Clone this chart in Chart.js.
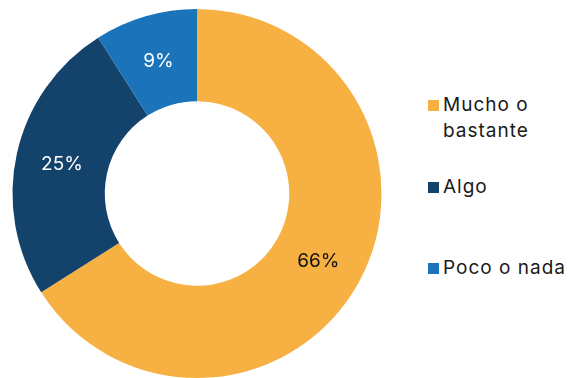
<!DOCTYPE html>
<html lang="es">
<head>
<meta charset="UTF-8">
<title>Donut</title>
<script src="https://cdn.jsdelivr.net/npm/chart.js"></script>
<style>
  html, body { margin: 0; padding: 0; background: #fff; }
  #wrap { position: relative; width: 569px; height: 378px; overflow: hidden; font-family: Inter, "Open Sans", sans-serif; }
  #box { position: absolute; left: 0; top: 0; width: 394px; height: 378px; }
  .leg { position: absolute; left: 428px; font-size: 19px; line-height: 26px; letter-spacing: 1px; color: #1a1a1a; white-space: nowrap; }
  .leg span.sq { position: absolute; left: 0; top: 8px; width: 11px; height: 11px; }
  .leg div.t { margin-left: 15px; }
</style>
</head>
<body>
<div id="wrap">
  <div id="box"><canvas id="grafico"></canvas></div>
  <div id="leyenda"></div>
</div>
<script>
  const categorias = ["Mucho o bastante", "Algo", "Poco o nada"];
  const valores = [66, 25, 9];
  const colores = ["#F6B142", "#13426B", "#1B73BA"];
  const coloresTexto = ["#111111", "#ffffff", "#ffffff"];
  const lineasLeyenda = [["Mucho o", "bastante"], ["Algo"], ["Poco o nada"]];
  const topLeyenda = [92, 174, 255];

  let leyenda = document.getElementById("leyenda");
  categorias.forEach((c, i) => {
    leyenda.innerHTML += `<div class="leg" style="top:${topLeyenda[i]}px"><span class="sq" style="background:${colores[i]}"></span><div class="t">${lineasLeyenda[i].join("<br>")}</div></div>`;
  });

  const etiquetas = {
    id: "etiquetas",
    afterDatasetsDraw(chart) {
      let ctx = chart.ctx;
      let meta = chart.getDatasetMeta(0);
      ctx.save();
      ctx.font = "19px Inter, 'Open Sans', sans-serif";
      ctx.textAlign = "center";
      ctx.textBaseline = "middle";
      meta.data.forEach((arc, i) => {
        let p = arc.tooltipPosition();
        ctx.fillStyle = coloresTexto[i];
        ctx.fillText(valores[i] + "%", p.x, p.y + 1);
      });
      ctx.restore();
    }
  };

  new Chart(document.getElementById("grafico"), {
    type: "doughnut",
    data: {
      labels: categorias,
      datasets: [{
        data: valores,
        backgroundColor: colores,
        borderWidth: 0
      }]
    },
    options: {
      responsive: true,
      maintainAspectRatio: false,
      animation: false,
      cutout: "50%",
      layout: { padding: { top: 9, bottom: 0, left: 12, right: 12 } },
      plugins: {
        legend: { display: false },
        tooltip: { enabled: false }
      }
    },
    plugins: [etiquetas]
  });
</script>
</body>
</html>
